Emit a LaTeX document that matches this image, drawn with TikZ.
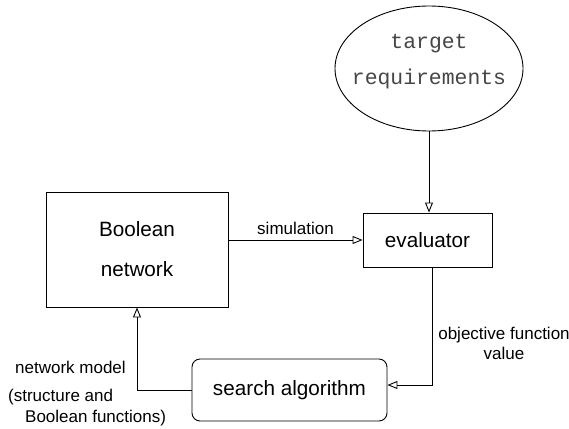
\documentclass[tikz,border=0pt]{standalone}
\usepackage{fontspec}
\setmainfont{Liberation Sans}
\setmonofont{Liberation Mono}
\usetikzlibrary{shapes.geometric,arrows.meta}
\definecolor{mygray}{RGB}{70,70,70}

\begin{document}
\begin{tikzpicture}[x=1pt, y=-1pt,
    box/.style={draw, line width=0.9pt, align=center, inner sep=0pt,
        font=\fontsize{20.7}{40}\selectfont},
    lbl/.style={align=center, inner sep=0pt, font=\fontsize{17}{19.5}\selectfont},
    ttlbl/.style={align=center, inner sep=0pt, text=mygray,
        font=\ttfamily\fontsize{21.4}{36}\selectfont},
    arr/.style={line width=0.9pt, -{Triangle[open, length=10pt, width=8pt]}}]
    \useasboundingbox (0,0) rectangle (569,428);

    % blocks
    \node[ellipse, draw, line width=0.9pt, minimum width=188pt, minimum height=125pt] (target) at (429,68.5) {};
    \node[ttlbl] (targettxt) at (429,62) {target\\requirements};
    \node[box, minimum width=182pt, minimum height=115pt] (boolnet) at (137,249.5) {Boolean\\network};
    \node[box, minimum width=129pt, minimum height=54pt] (evaluator) at (427.5,240) {evaluator};
    \node[box, rounded corners=8pt, minimum width=195pt, minimum height=62pt] (search) at (289.5,390) {search algorithm};

    % connections
    \draw[arr] (target) -- (target |- evaluator.north);
    \draw[arr] (boolnet.east |- evaluator.west)
        -- node[lbl, above=5pt] (simlbl) {simulation} (evaluator.west);
    \draw[arr] ([xshift=4.5pt]evaluator.south) |- ([yshift=5pt]search.east);
    \draw[arr] (search.west) -| (boolnet.south);

    % labels
    \node[lbl] (objlbl) at (504,343.5) {objective function\\value};
    \node[lbl, anchor=west] (modellbl) at (15,367) {network model};
    \node[lbl, anchor=west] (structlbl) at (8,397) {(structure and};
    \node[lbl, anchor=west] (funclbl) at (25,418) {Boolean functions)};
\end{tikzpicture}
\end{document}
